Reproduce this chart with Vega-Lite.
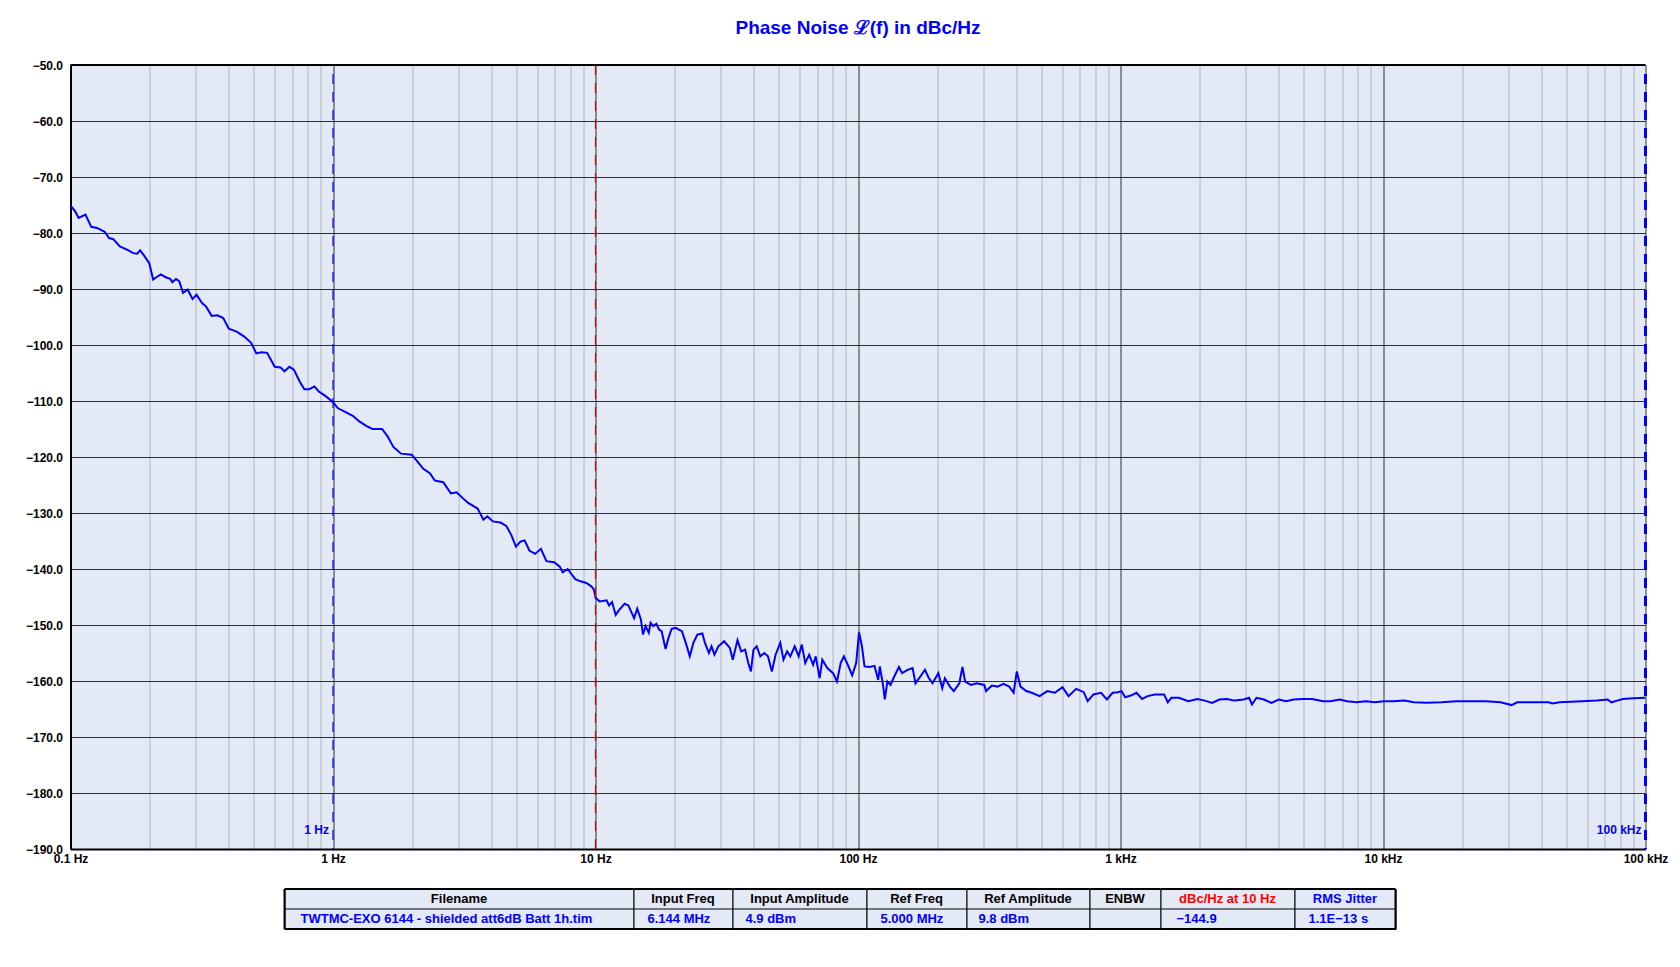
{
  "$schema": "https://vega.github.io/schema/vega-lite/v6.json",
  "background": "white",
  "padding": {"left": 24.5, "top": 19, "right": 0, "bottom": 0},
  "config": {"view": {"stroke": null}, "concat": {"spacing": 0}},
  "spacing": 23,
  "center": false,
  "datasets": {
    "pn": [
      {"f":0.1,"L":-75.1},{"f":0.1041,"L":-76.1},{"f":0.1074,"L":-77.3},{"f":0.114,"L":-76.7},{"f":0.12,"L":-78.9},{"f":0.1262,"L":-79.1},{"f":0.1349,"L":-79.8},{"f":0.1403,"L":-80.9},{"f":0.1455,"L":-81.1},{"f":0.1542,"L":-82.4},{"f":0.1648,"L":-83.0},{"f":0.1734,"L":-83.6},{"f":0.1795,"L":-83.7},{"f":0.1841,"L":-83.1},{"f":0.1905,"L":-84.0},{"f":0.1995,"L":-85.4},{"f":0.2065,"L":-88.3},{"f":0.2123,"L":-87.9},{"f":0.2208,"L":-87.4},{"f":0.2307,"L":-87.9},{"f":0.2399,"L":-88.2},{"f":0.2443,"L":-88.8},{"f":0.2523,"L":-88.2},{"f":0.2594,"L":-88.6},{"f":0.2685,"L":-90.7},{"f":0.2793,"L":-90.1},{"f":0.2917,"L":-91.8},{"f":0.302,"L":-91.0},{"f":0.317,"L":-92.5},{"f":0.3281,"L":-93.1},{"f":0.3451,"L":-94.8},{"f":0.3631,"L":-94.7},{"f":0.3819,"L":-95.2},{"f":0.4009,"L":-97.1},{"f":0.4295,"L":-97.6},{"f":0.4592,"L":-98.5},{"f":0.4875,"L":-99.6},{"f":0.5105,"L":-101.5},{"f":0.5333,"L":-101.3},{"f":0.561,"L":-101.4},{"f":0.5998,"L":-103.9},{"f":0.631,"L":-104.0},{"f":0.6531,"L":-104.7},{"f":0.6823,"L":-103.9},{"f":0.7096,"L":-104.4},{"f":0.7464,"L":-106.5},{"f":0.778,"L":-107.9},{"f":0.8128,"L":-107.9},{"f":0.8492,"L":-107.4},{"f":0.8831,"L":-108.3},{"f":0.929,"L":-109.0},{"f":0.9772,"L":-109.8},
      {"f":1.0,"L":-110.2},{"f":1.045,"L":-111.3},{"f":1.117,"L":-112.0},{"f":1.194,"L":-112.7},{"f":1.256,"L":-113.6},{"f":1.343,"L":-114.5},{"f":1.413,"L":-115.0},{"f":1.538,"L":-115.0},{"f":1.614,"L":-116.3},{"f":1.698,"L":-118.2},{"f":1.816,"L":-119.4},{"f":1.995,"L":-119.6},{"f":2.08,"L":-120.6},{"f":2.208,"L":-122.1},{"f":2.339,"L":-122.9},{"f":2.443,"L":-124.2},{"f":2.63,"L":-124.5},{"f":2.812,"L":-126.5},{"f":2.958,"L":-126.3},{"f":3.112,"L":-127.3},{"f":3.273,"L":-128.2},{"f":3.556,"L":-129.2},{"f":3.741,"L":-131.2},{"f":3.873,"L":-130.6},{"f":4.064,"L":-131.5},{"f":4.345,"L":-131.7},{"f":4.571,"L":-132.3},{"f":4.775,"L":-133.9},{"f":4.977,"L":-136.0},{"f":5.176,"L":-135.1},{"f":5.37,"L":-134.9},{"f":5.598,"L":-136.7},{"f":5.888,"L":-137.3},{"f":6.194,"L":-136.4},{"f":6.501,"L":-138.6},{"f":6.966,"L":-138.8},{"f":7.311,"L":-139.6},{"f":7.499,"L":-140.6},{"f":7.834,"L":-140.0},{"f":8.375,"L":-141.8},{"f":8.77,"L":-142.2},{"f":9.226,"L":-142.5},{"f":9.638,"L":-143.1},{"f":9.863,"L":-143.7},
      {"f":10.02,"L":-145.2},{"f":10.38,"L":-145.8},{"f":11.02,"L":-145.6},{"f":11.27,"L":-146.5},{"f":11.56,"L":-145.9},{"f":11.94,"L":-148.2},{"f":12.27,"L":-147.4},{"f":12.91,"L":-146.2},{"f":13.34,"L":-146.5},{"f":14.03,"L":-148.8},{"f":14.42,"L":-147.1},{"f":14.89,"L":-149.0},{"f":15.17,"L":-151.7},{"f":15.52,"L":-150.2},{"f":15.96,"L":-151.4},{"f":16.22,"L":-149.6},{"f":16.6,"L":-150.2},{"f":17.06,"L":-149.8},{"f":17.46,"L":-150.8},{"f":17.86,"L":-151.1},{"f":18.49,"L":-154.3},{"f":18.97,"L":-152.3},{"f":19.5,"L":-150.7},{"f":20.18,"L":-150.5},{"f":21.33,"L":-151.1},{"f":22.08,"L":-153.2},{"f":22.86,"L":-155.6},{"f":23.6,"L":-153.2},{"f":24.43,"L":-151.7},{"f":25.53,"L":-151.5},{"f":26.12,"L":-153.2},{"f":27.04,"L":-155.0},{"f":27.67,"L":-153.8},{"f":28.38,"L":-155.3},{"f":29.38,"L":-153.8},{"f":30.9,"L":-152.9},{"f":32.51,"L":-154.1},{"f":33.34,"L":-156.2},{"f":34.75,"L":-152.7},{"f":35.89,"L":-154.7},{"f":37.15,"L":-154.4},{"f":38.19,"L":-156.8},{"f":39.08,"L":-158.3},{"f":39.99,"L":-154.4},{"f":41.11,"L":-153.8},{"f":42.46,"L":-155.6},{"f":43.95,"L":-155.0},{"f":45.39,"L":-155.6},{"f":46.99,"L":-158.3},{"f":48.53,"L":-155.3},{"f":50.58,"L":-153.2},{"f":52.0,"L":-156.2},{"f":53.7,"L":-154.7},{"f":55.21,"L":-155.6},{"f":57.41,"L":-153.8},{"f":59.43,"L":-155.6},{"f":61.09,"L":-153.5},{"f":62.95,"L":-156.8},{"f":65.16,"L":-155.3},{"f":67.45,"L":-157.1},{"f":69.02,"L":-155.6},{"f":71.45,"L":-159.5},{"f":73.11,"L":-156.2},{"f":76.38,"L":-157.7},{"f":80.35,"L":-158.6},{"f":83.18,"L":-160.1},{"f":85.9,"L":-156.8},{"f":88.31,"L":-155.6},{"f":91.41,"L":-157.1},{"f":95.06,"L":-159.0},{"f":98.4,"L":-156.8},
      {"f":100.9,"L":-151.3},{"f":103.5,"L":-153.8},{"f":105.9,"L":-157.4},{"f":110.7,"L":-157.5},{"f":115.6,"L":-157.3},{"f":119.4,"L":-159.8},{"f":121.1,"L":-157.4},{"f":124.5,"L":-160.7},{"f":126.5,"L":-163.3},{"f":129.4,"L":-160.1},{"f":133.0,"L":-160.7},{"f":137.4,"L":-159.2},{"f":143.2,"L":-157.5},{"f":147.2,"L":-158.6},{"f":154.5,"L":-158.0},{"f":161.4,"L":-157.7},{"f":165.6,"L":-160.4},{"f":171.0,"L":-159.5},{"f":179.9,"L":-158.0},{"f":186.2,"L":-159.5},{"f":192.3,"L":-160.4},{"f":202.3,"L":-158.6},{"f":209.4,"L":-161.3},{"f":214.3,"L":-159.5},{"f":223.9,"L":-161.0},{"f":231.7,"L":-161.8},{"f":243.2,"L":-160.4},{"f":250.0,"L":-157.5},{"f":255.9,"L":-160.1},{"f":269.2,"L":-160.7},{"f":283.1,"L":-160.4},{"f":302.7,"L":-160.7},{"f":307.6,"L":-161.8},{"f":323.6,"L":-160.8},{"f":340.4,"L":-161.0},{"f":358.1,"L":-160.5},{"f":376.7,"L":-161.0},{"f":391.7,"L":-162.1},{"f":402.7,"L":-158.3},{"f":415.9,"L":-161.0},{"f":437.5,"L":-161.8},{"f":459.2,"L":-162.1},{"f":492.0,"L":-162.7},{"f":526.0,"L":-161.8},{"f":562.3,"L":-162.1},{"f":601.2,"L":-161.1},{"f":633.9,"L":-162.7},{"f":677.6,"L":-161.4},{"f":724.4,"L":-162.0},{"f":749.9,"L":-163.6},{"f":788.9,"L":-162.4},{"f":843.3,"L":-162.1},{"f":887.2,"L":-163.3},{"f":933.3,"L":-162.1},{"f":977.2,"L":-162.0},
      {"f":1009,"L":-161.8},{"f":1042,"L":-162.9},{"f":1094,"L":-162.6},{"f":1151,"L":-162.1},{"f":1208,"L":-163.2},{"f":1268,"L":-162.7},{"f":1352,"L":-162.4},{"f":1466,"L":-162.4},{"f":1514,"L":-163.8},{"f":1563,"L":-163.0},{"f":1671,"L":-163.0},{"f":1811,"L":-163.6},{"f":1963,"L":-163.2},{"f":2094,"L":-163.5},{"f":2234,"L":-163.9},{"f":2382,"L":-163.3},{"f":2547,"L":-163.2},{"f":2716,"L":-163.5},{"f":2944,"L":-163.3},{"f":3090,"L":-163.0},{"f":3170,"L":-164.2},{"f":3296,"L":-163.0},{"f":3516,"L":-163.3},{"f":3758,"L":-163.9},{"f":4009,"L":-163.3},{"f":4276,"L":-163.6},{"f":4560,"L":-163.3},{"f":4943,"L":-163.2},{"f":5370,"L":-163.2},{"f":5916,"L":-163.6},{"f":6310,"L":-163.6},{"f":6839,"L":-163.3},{"f":7295,"L":-163.6},{"f":7925,"L":-163.8},{"f":8590,"L":-163.6},{"f":9311,"L":-163.8},
      {"f":10090,"L":-163.6},{"f":10940,"L":-163.6},{"f":12080,"L":-163.5},{"f":13090,"L":-163.8},{"f":14660,"L":-163.9},{"f":16710,"L":-163.8},{"f":19010,"L":-163.6},{"f":21630,"L":-163.6},{"f":24660,"L":-163.6},{"f":28050,"L":-163.8},{"f":30900,"L":-164.3},{"f":32430,"L":-163.8},{"f":37580,"L":-163.8},{"f":42760,"L":-163.8},{"f":44160,"L":-164.0},{"f":47100,"L":-163.8},{"f":57280,"L":-163.6},{"f":65160,"L":-163.5},{"f":71780,"L":-163.3},{"f":74130,"L":-163.8},{"f":77980,"L":-163.5},{"f":81850,"L":-163.2},{"f":90160,"L":-163.1},{"f":100000,"L":-163.0}
    ],
    "markers": [
      {"f": 1, "label": "1 Hz", "kind": "blue"},
      {"f": 10, "label": "", "kind": "red"},
      {"f": 100000, "label": "100 kHz", "kind": "edge"}
    ],
    "table": [
      {"col": "Filename", "row": "h", "text": "Filename"},
      {"col": "Filename", "row": "v", "text": "TWTMC-EXO 6144 - shielded att6dB Batt 1h.tim"},
      {"col": "Input Freq", "row": "h", "text": "Input Freq"},
      {"col": "Input Freq", "row": "v", "text": "6.144 MHz"},
      {"col": "Input Amplitude", "row": "h", "text": "Input Amplitude"},
      {"col": "Input Amplitude", "row": "v", "text": "4.9 dBm"},
      {"col": "Ref Freq", "row": "h", "text": "Ref Freq"},
      {"col": "Ref Freq", "row": "v", "text": "5.000 MHz"},
      {"col": "Ref Amplitude", "row": "h", "text": "Ref Amplitude"},
      {"col": "Ref Amplitude", "row": "v", "text": "9.8 dBm"},
      {"col": "ENBW", "row": "h", "text": "ENBW"},
      {"col": "ENBW", "row": "v", "text": ""},
      {"col": "dBc/Hz at 10 Hz", "row": "h", "text": "dBc/Hz at 10 Hz"},
      {"col": "dBc/Hz at 10 Hz", "row": "v", "text": "−144.9"},
      {"col": "RMS Jitter", "row": "h", "text": "RMS Jitter"},
      {"col": "RMS Jitter", "row": "v", "text": "1.1E−13 s"}
    ]
  },
  "vconcat": [
    {
      "width": 1575,
      "height": 784,
      "view": {"fill": "#E3E9F5", "stroke": null},
      "title": {"text": "Phase Noise ℒ(f) in dBc/Hz", "color": "#0000FF", "font": "Liberation Sans", "fontSize": 19, "fontWeight": "bold", "anchor": "middle", "frame": "group", "offset": 21},
      "layer": [
        {
          "data": {"name": "pn"},
          "mark": {"type": "line", "color": "#0000FF", "strokeWidth": 2, "clip": true},
          "encoding": {
            "x": {"field": "f", "type": "quantitative",
              "scale": {"type": "log", "domain": [0.1, 100000], "nice": false},
              "axis": {
                "values": [0.1,0.2,0.3,0.4,0.5,0.6,0.7,0.8,0.9,1,2,3,4,5,6,7,8,9,10,20,30,40,50,60,70,80,90,100,200,300,400,500,600,700,800,900,1000,2000,3000,4000,5000,6000,7000,8000,9000,10000,20000,30000,40000,50000,60000,70000,80000,90000,100000],
                "labelExpr": "abs(log(datum.value)/LN10 - round(log(datum.value)/LN10)) < 0.001 ? (datum.value >= 1000 ? format(datum.value/1000, 'd') + ' kHz' : (datum.value < 1 ? '0.1 Hz' : format(datum.value, 'd') + ' Hz')) : ''",
                "grid": true,
                "gridColor": {"condition": {"test": "abs(log(datum.value)/LN10 - round(log(datum.value)/LN10)) < 0.001", "value": "#2E2E2E"}, "value": "#AEB5C2"},
                "gridWidth": 1,
                "ticks": false,
                "domainColor": "black", "domainWidth": 2,
                "labelFont": "Liberation Sans", "labelFontSize": 12, "labelFontWeight": "bold", "labelColor": "black",
                "labelPadding": 4, "labelOverlap": false, "labelFlush": false, "title": null
              }
            },
            "y": {"field": "L", "type": "quantitative",
              "scale": {"domain": [-190, -50], "nice": false, "zero": false},
              "axis": {
                "values": [-190,-180,-170,-160,-150,-140,-130,-120,-110,-100,-90,-80,-70,-60,-50],
                "format": ".1f",
                "grid": true, "gridColor": "#2E2E2E", "gridWidth": 1,
                "ticks": false,
                "domainColor": "black", "domainWidth": 2,
                "labelFont": "Liberation Sans", "labelFontSize": 12, "labelFontWeight": "bold", "labelColor": "black",
                "labelPadding": 8, "title": null
              }
            }
          }
        },
        {
          "data": {"name": "markers"},
          "transform": [{"filter": "datum.kind === 'blue'"}],
          "mark": {"type": "rule", "color": "#0000FF", "strokeWidth": 1.2, "strokeDash": [10, 8]},
          "encoding": {"x": {"field": "f", "type": "quantitative"}, "y": {"datum": -51.6}, "y2": {"datum": -190}}
        },
        {
          "data": {"name": "markers"},
          "transform": [{"filter": "datum.kind === 'red'"}],
          "mark": {"type": "rule", "color": "#DD0000", "strokeWidth": 1.2, "strokeDash": [10, 8]},
          "encoding": {"x": {"field": "f", "type": "quantitative"}}
        },
        {
          "data": {"name": "markers"},
          "transform": [{"filter": "datum.kind === 'edge'"}],
          "mark": {"type": "rule", "color": "#0000FF", "strokeWidth": 3, "strokeDash": [10, 8]},
          "encoding": {"x": {"field": "f", "type": "quantitative"}, "y": {"datum": -51.6}, "y2": {"datum": -190}}
        },
        {
          "data": {"name": "markers"},
          "transform": [{"filter": "datum.label !== ''"}],
          "mark": {"type": "text", "color": "#0000FF", "font": "Liberation Sans", "fontSize": 12, "fontWeight": "bold", "align": "right", "baseline": "middle", "dx": -4},
          "encoding": {"x": {"field": "f", "type": "quantitative"}, "y": {"datum": -186.6}, "text": {"field": "label"}}
        },
        {
          "data": {"values": [{"L": -50}]},
          "mark": {"type": "rule", "color": "black", "strokeWidth": 2},
          "encoding": {"y": {"field": "L", "type": "quantitative"}}
        }
      ]
    },
    {
      "spacing": 0,
      "bounds": "flush",
      "hconcat": [
        {"width": 214, "height": 40, "data": {"name": "table"}, "transform": [{"filter": "false"}], "mark": "text", "encoding": {}},
        {"width": 349, "height": 40, "view": {"fill": "#E3E9F5", "stroke": "black", "strokeWidth": 1},
         "data": {"name": "table"}, "transform": [{"filter": "datum.col === 'Filename'"}],
         "layer": [
          {"transform": [{"filter": "datum.row === 'h'"}], "mark": {"type": "text", "font": "Liberation Sans", "fontSize": 13, "fontWeight": "bold", "color": "black", "baseline": "middle", "align": "center"},
           "encoding": {"x": {"datum": 0.5, "type": "quantitative", "scale": {"domain": [0, 1], "nice": false, "zero": false}, "axis": null},
                        "y": {"field": "row", "type": "nominal", "bandPosition": 0.5, "scale": {"type": "band", "domain": ["h", "v"], "paddingInner": 0, "paddingOuter": 0}, "axis": null},
                        "text": {"field": "text"}}},
          {"transform": [{"filter": "datum.row === 'v'"}], "mark": {"type": "text", "font": "Liberation Sans", "fontSize": 13, "fontWeight": "bold", "color": "#0000FF", "baseline": "middle", "align": "left", "dx": 16},
           "encoding": {"x": {"datum": 0, "type": "quantitative"}, "y": {"field": "row", "type": "nominal", "bandPosition": 0.5}, "text": {"field": "text"}}},
          {"transform": [{"filter": "datum.row === 'v'"}], "mark": {"type": "rule", "color": "black", "strokeWidth": 1}, "encoding": {"y": {"field": "row", "type": "nominal", "bandPosition": 0}}},
          {"transform": [{"filter": "datum.row === 'h'"}], "mark": {"type": "rule", "color": "black", "strokeWidth": 2}, "encoding": {"y": {"field": "row", "type": "nominal", "bandPosition": 0}}},
          {"transform": [{"filter": "datum.row === 'v'"}], "mark": {"type": "rule", "color": "black", "strokeWidth": 2}, "encoding": {"y": {"field": "row", "type": "nominal", "bandPosition": 1}}},
          {"transform": [{"filter": "datum.row === 'v'"}], "mark": {"type": "rule", "color": "black", "strokeWidth": 2}, "encoding": {"x": {"datum": 0, "type": "quantitative"}}}
         ]},
        {"width": 99, "height": 40, "view": {"fill": "#E3E9F5", "stroke": "black", "strokeWidth": 1},
         "data": {"name": "table"}, "transform": [{"filter": "datum.col === 'Input Freq'"}],
         "layer": [
          {"transform": [{"filter": "datum.row === 'h'"}], "mark": {"type": "text", "font": "Liberation Sans", "fontSize": 13, "fontWeight": "bold", "color": "black", "baseline": "middle", "align": "center"},
           "encoding": {"x": {"datum": 0.5, "type": "quantitative", "scale": {"domain": [0, 1], "nice": false, "zero": false}, "axis": null},
                        "y": {"field": "row", "type": "nominal", "bandPosition": 0.5, "scale": {"type": "band", "domain": ["h", "v"], "paddingInner": 0, "paddingOuter": 0}, "axis": null},
                        "text": {"field": "text"}}},
          {"transform": [{"filter": "datum.row === 'v'"}], "mark": {"type": "text", "font": "Liberation Sans", "fontSize": 13, "fontWeight": "bold", "color": "#0000FF", "baseline": "middle", "align": "left", "dx": 14},
           "encoding": {"x": {"datum": 0, "type": "quantitative"}, "y": {"field": "row", "type": "nominal", "bandPosition": 0.5}, "text": {"field": "text"}}},
          {"transform": [{"filter": "datum.row === 'v'"}], "mark": {"type": "rule", "color": "black", "strokeWidth": 1}, "encoding": {"y": {"field": "row", "type": "nominal", "bandPosition": 0}}},
          {"transform": [{"filter": "datum.row === 'h'"}], "mark": {"type": "rule", "color": "black", "strokeWidth": 2}, "encoding": {"y": {"field": "row", "type": "nominal", "bandPosition": 0}}},
          {"transform": [{"filter": "datum.row === 'v'"}], "mark": {"type": "rule", "color": "black", "strokeWidth": 2}, "encoding": {"y": {"field": "row", "type": "nominal", "bandPosition": 1}}}
         ]},
        {"width": 134, "height": 40, "view": {"fill": "#E3E9F5", "stroke": "black", "strokeWidth": 1},
         "data": {"name": "table"}, "transform": [{"filter": "datum.col === 'Input Amplitude'"}],
         "layer": [
          {"transform": [{"filter": "datum.row === 'h'"}], "mark": {"type": "text", "font": "Liberation Sans", "fontSize": 13, "fontWeight": "bold", "color": "black", "baseline": "middle", "align": "center"},
           "encoding": {"x": {"datum": 0.5, "type": "quantitative", "scale": {"domain": [0, 1], "nice": false, "zero": false}, "axis": null},
                        "y": {"field": "row", "type": "nominal", "bandPosition": 0.5, "scale": {"type": "band", "domain": ["h", "v"], "paddingInner": 0, "paddingOuter": 0}, "axis": null},
                        "text": {"field": "text"}}},
          {"transform": [{"filter": "datum.row === 'v'"}], "mark": {"type": "text", "font": "Liberation Sans", "fontSize": 13, "fontWeight": "bold", "color": "#0000FF", "baseline": "middle", "align": "left", "dx": 13},
           "encoding": {"x": {"datum": 0, "type": "quantitative"}, "y": {"field": "row", "type": "nominal", "bandPosition": 0.5}, "text": {"field": "text"}}},
          {"transform": [{"filter": "datum.row === 'v'"}], "mark": {"type": "rule", "color": "black", "strokeWidth": 1}, "encoding": {"y": {"field": "row", "type": "nominal", "bandPosition": 0}}},
          {"transform": [{"filter": "datum.row === 'h'"}], "mark": {"type": "rule", "color": "black", "strokeWidth": 2}, "encoding": {"y": {"field": "row", "type": "nominal", "bandPosition": 0}}},
          {"transform": [{"filter": "datum.row === 'v'"}], "mark": {"type": "rule", "color": "black", "strokeWidth": 2}, "encoding": {"y": {"field": "row", "type": "nominal", "bandPosition": 1}}}
         ]},
        {"width": 100, "height": 40, "view": {"fill": "#E3E9F5", "stroke": "black", "strokeWidth": 1},
         "data": {"name": "table"}, "transform": [{"filter": "datum.col === 'Ref Freq'"}],
         "layer": [
          {"transform": [{"filter": "datum.row === 'h'"}], "mark": {"type": "text", "font": "Liberation Sans", "fontSize": 13, "fontWeight": "bold", "color": "black", "baseline": "middle", "align": "center"},
           "encoding": {"x": {"datum": 0.5, "type": "quantitative", "scale": {"domain": [0, 1], "nice": false, "zero": false}, "axis": null},
                        "y": {"field": "row", "type": "nominal", "bandPosition": 0.5, "scale": {"type": "band", "domain": ["h", "v"], "paddingInner": 0, "paddingOuter": 0}, "axis": null},
                        "text": {"field": "text"}}},
          {"transform": [{"filter": "datum.row === 'v'"}], "mark": {"type": "text", "font": "Liberation Sans", "fontSize": 13, "fontWeight": "bold", "color": "#0000FF", "baseline": "middle", "align": "left", "dx": 14},
           "encoding": {"x": {"datum": 0, "type": "quantitative"}, "y": {"field": "row", "type": "nominal", "bandPosition": 0.5}, "text": {"field": "text"}}},
          {"transform": [{"filter": "datum.row === 'v'"}], "mark": {"type": "rule", "color": "black", "strokeWidth": 1}, "encoding": {"y": {"field": "row", "type": "nominal", "bandPosition": 0}}},
          {"transform": [{"filter": "datum.row === 'h'"}], "mark": {"type": "rule", "color": "black", "strokeWidth": 2}, "encoding": {"y": {"field": "row", "type": "nominal", "bandPosition": 0}}},
          {"transform": [{"filter": "datum.row === 'v'"}], "mark": {"type": "rule", "color": "black", "strokeWidth": 2}, "encoding": {"y": {"field": "row", "type": "nominal", "bandPosition": 1}}}
         ]},
        {"width": 123, "height": 40, "view": {"fill": "#E3E9F5", "stroke": "black", "strokeWidth": 1},
         "data": {"name": "table"}, "transform": [{"filter": "datum.col === 'Ref Amplitude'"}],
         "layer": [
          {"transform": [{"filter": "datum.row === 'h'"}], "mark": {"type": "text", "font": "Liberation Sans", "fontSize": 13, "fontWeight": "bold", "color": "black", "baseline": "middle", "align": "center"},
           "encoding": {"x": {"datum": 0.5, "type": "quantitative", "scale": {"domain": [0, 1], "nice": false, "zero": false}, "axis": null},
                        "y": {"field": "row", "type": "nominal", "bandPosition": 0.5, "scale": {"type": "band", "domain": ["h", "v"], "paddingInner": 0, "paddingOuter": 0}, "axis": null},
                        "text": {"field": "text"}}},
          {"transform": [{"filter": "datum.row === 'v'"}], "mark": {"type": "text", "font": "Liberation Sans", "fontSize": 13, "fontWeight": "bold", "color": "#0000FF", "baseline": "middle", "align": "left", "dx": 12},
           "encoding": {"x": {"datum": 0, "type": "quantitative"}, "y": {"field": "row", "type": "nominal", "bandPosition": 0.5}, "text": {"field": "text"}}},
          {"transform": [{"filter": "datum.row === 'v'"}], "mark": {"type": "rule", "color": "black", "strokeWidth": 1}, "encoding": {"y": {"field": "row", "type": "nominal", "bandPosition": 0}}},
          {"transform": [{"filter": "datum.row === 'h'"}], "mark": {"type": "rule", "color": "black", "strokeWidth": 2}, "encoding": {"y": {"field": "row", "type": "nominal", "bandPosition": 0}}},
          {"transform": [{"filter": "datum.row === 'v'"}], "mark": {"type": "rule", "color": "black", "strokeWidth": 2}, "encoding": {"y": {"field": "row", "type": "nominal", "bandPosition": 1}}}
         ]},
        {"width": 71, "height": 40, "view": {"fill": "#E3E9F5", "stroke": "black", "strokeWidth": 1},
         "data": {"name": "table"}, "transform": [{"filter": "datum.col === 'ENBW'"}],
         "layer": [
          {"transform": [{"filter": "datum.row === 'h'"}], "mark": {"type": "text", "font": "Liberation Sans", "fontSize": 13, "fontWeight": "bold", "color": "black", "baseline": "middle", "align": "center"},
           "encoding": {"x": {"datum": 0.5, "type": "quantitative", "scale": {"domain": [0, 1], "nice": false, "zero": false}, "axis": null},
                        "y": {"field": "row", "type": "nominal", "bandPosition": 0.5, "scale": {"type": "band", "domain": ["h", "v"], "paddingInner": 0, "paddingOuter": 0}, "axis": null},
                        "text": {"field": "text"}}},
          {"transform": [{"filter": "datum.row === 'v'"}], "mark": {"type": "rule", "color": "black", "strokeWidth": 1}, "encoding": {"y": {"field": "row", "type": "nominal", "bandPosition": 0}}},
          {"transform": [{"filter": "datum.row === 'h'"}], "mark": {"type": "rule", "color": "black", "strokeWidth": 2}, "encoding": {"y": {"field": "row", "type": "nominal", "bandPosition": 0}}},
          {"transform": [{"filter": "datum.row === 'v'"}], "mark": {"type": "rule", "color": "black", "strokeWidth": 2}, "encoding": {"y": {"field": "row", "type": "nominal", "bandPosition": 1}}}
         ]},
        {"width": 134, "height": 40, "view": {"fill": "#E3E9F5", "stroke": "black", "strokeWidth": 1},
         "data": {"name": "table"}, "transform": [{"filter": "datum.col === 'dBc/Hz at 10 Hz'"}],
         "layer": [
          {"transform": [{"filter": "datum.row === 'h'"}], "mark": {"type": "text", "font": "Liberation Sans", "fontSize": 13, "fontWeight": "bold", "color": "#FF0000", "baseline": "middle", "align": "center"},
           "encoding": {"x": {"datum": 0.5, "type": "quantitative", "scale": {"domain": [0, 1], "nice": false, "zero": false}, "axis": null},
                        "y": {"field": "row", "type": "nominal", "bandPosition": 0.5, "scale": {"type": "band", "domain": ["h", "v"], "paddingInner": 0, "paddingOuter": 0}, "axis": null},
                        "text": {"field": "text"}}},
          {"transform": [{"filter": "datum.row === 'v'"}], "mark": {"type": "text", "font": "Liberation Sans", "fontSize": 13, "fontWeight": "bold", "color": "#0000FF", "baseline": "middle", "align": "left", "dx": 16},
           "encoding": {"x": {"datum": 0, "type": "quantitative"}, "y": {"field": "row", "type": "nominal", "bandPosition": 0.5}, "text": {"field": "text"}}},
          {"transform": [{"filter": "datum.row === 'v'"}], "mark": {"type": "rule", "color": "black", "strokeWidth": 1}, "encoding": {"y": {"field": "row", "type": "nominal", "bandPosition": 0}}},
          {"transform": [{"filter": "datum.row === 'h'"}], "mark": {"type": "rule", "color": "black", "strokeWidth": 2}, "encoding": {"y": {"field": "row", "type": "nominal", "bandPosition": 0}}},
          {"transform": [{"filter": "datum.row === 'v'"}], "mark": {"type": "rule", "color": "black", "strokeWidth": 2}, "encoding": {"y": {"field": "row", "type": "nominal", "bandPosition": 1}}}
         ]},
        {"width": 101, "height": 40, "view": {"fill": "#E3E9F5", "stroke": "black", "strokeWidth": 1},
         "data": {"name": "table"}, "transform": [{"filter": "datum.col === 'RMS Jitter'"}],
         "layer": [
          {"transform": [{"filter": "datum.row === 'h'"}], "mark": {"type": "text", "font": "Liberation Sans", "fontSize": 13, "fontWeight": "bold", "color": "#0000FF", "baseline": "middle", "align": "center"},
           "encoding": {"x": {"datum": 0.5, "type": "quantitative", "scale": {"domain": [0, 1], "nice": false, "zero": false}, "axis": null},
                        "y": {"field": "row", "type": "nominal", "bandPosition": 0.5, "scale": {"type": "band", "domain": ["h", "v"], "paddingInner": 0, "paddingOuter": 0}, "axis": null},
                        "text": {"field": "text"}}},
          {"transform": [{"filter": "datum.row === 'v'"}], "mark": {"type": "text", "font": "Liberation Sans", "fontSize": 13, "fontWeight": "bold", "color": "#0000FF", "baseline": "middle", "align": "left", "dx": 14},
           "encoding": {"x": {"datum": 0, "type": "quantitative"}, "y": {"field": "row", "type": "nominal", "bandPosition": 0.5}, "text": {"field": "text"}}},
          {"transform": [{"filter": "datum.row === 'v'"}], "mark": {"type": "rule", "color": "black", "strokeWidth": 1}, "encoding": {"y": {"field": "row", "type": "nominal", "bandPosition": 0}}},
          {"transform": [{"filter": "datum.row === 'h'"}], "mark": {"type": "rule", "color": "black", "strokeWidth": 2}, "encoding": {"y": {"field": "row", "type": "nominal", "bandPosition": 0}}},
          {"transform": [{"filter": "datum.row === 'v'"}], "mark": {"type": "rule", "color": "black", "strokeWidth": 2}, "encoding": {"y": {"field": "row", "type": "nominal", "bandPosition": 1}}},
          {"transform": [{"filter": "datum.row === 'v'"}], "mark": {"type": "rule", "color": "black", "strokeWidth": 2}, "encoding": {"x": {"datum": 1, "type": "quantitative"}}}
         ]}
      ]
    }
  ]
}
